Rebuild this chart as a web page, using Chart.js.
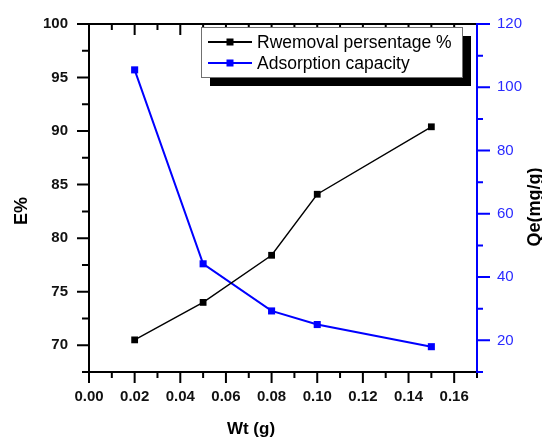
<!DOCTYPE html>
<html>
<head>
<meta charset="utf-8">
<script src="https://cdn.jsdelivr.net/npm/chart.js@4.4.1/dist/chart.umd.min.js"></script>
<style>
  html, body { margin: 0; padding: 0; background: #fff; }
  #wrap { width: 542px; height: 439px; }
</style>
</head>
<body>
<div id="wrap"><canvas id="myChart" width="542" height="439"></canvas></div>
<script>
// values
const weights = [0.02, 0.05, 0.08, 0.10, 0.15];
const removalPct = [70.5, 74.0, 78.4, 84.1, 90.4];
const adsorptionCap = [105.5, 44.2, 29.3, 25.0, 18.0];

const seriesNames = ["Rwemoval persentage %", "Adsorption capacity"];
const axisTitles = {x: "Wt (g)", left: "E%", right: "Qe(mg/g)"};

// tick positions
const xTicks = [0, 0.02, 0.04, 0.06, 0.08, 0.10, 0.12, 0.14, 0.16];
const xMinor = [0.01, 0.03, 0.05, 0.07, 0.09, 0.11, 0.13, 0.15, 0.17];
const leftTicks = [70, 75, 80, 85, 90, 95, 100];
const leftMinor = [67.5, 72.5, 77.5, 82.5, 87.5, 92.5, 97.5];
const rightTicks = [20, 40, 60, 80, 100, 120];
const rightMinor = [10, 30, 50, 70, 90, 110];

const BLUE = "#0000ff";

// frame, ticks, titles and the shadowed legend box
const frameAndLegend = {
    id: "frameAndLegend",
    afterDraw(chart) {
        const ctx = chart.ctx;
        const a = chart.chartArea;
        const sx = chart.scales.x, sl = chart.scales.y, sr = chart.scales.y2;
        ctx.save();
        ctx.lineCap = "butt";

        // black part of the frame
        ctx.strokeStyle = "#000";
        ctx.lineWidth = 2;
        ctx.beginPath();
        ctx.moveTo(a.left, a.bottom); ctx.lineTo(a.right, a.bottom);
        ctx.moveTo(a.left, a.top); ctx.lineTo(a.right, a.top);
        ctx.moveTo(a.left, a.top - 1); ctx.lineTo(a.left, a.bottom + 1);
        // left ticks (outward)
        leftTicks.forEach(v => { const y = sl.getPixelForValue(v); ctx.moveTo(a.left - 12, y); ctx.lineTo(a.left, y); });
        leftMinor.forEach(v => { const y = sl.getPixelForValue(v); ctx.moveTo(a.left - 7, y); ctx.lineTo(a.left, y); });
        // bottom ticks (outward) and top ticks (inward)
        xTicks.forEach(v => {
            const x = sx.getPixelForValue(v);
            ctx.moveTo(x, a.bottom); ctx.lineTo(x, a.bottom + 11);
            ctx.moveTo(x, a.top); ctx.lineTo(x, a.top + 11);
        });
        xMinor.forEach(v => {
            const x = sx.getPixelForValue(v);
            ctx.moveTo(x, a.bottom); ctx.lineTo(x, a.bottom + 6);
            ctx.moveTo(x, a.top); ctx.lineTo(x, a.top + 6);
        });
        ctx.stroke();

        // blue right axis
        ctx.strokeStyle = BLUE;
        ctx.beginPath();
        ctx.moveTo(a.right, a.top - 1); ctx.lineTo(a.right, a.bottom + 1);
        rightTicks.forEach(v => { const y = sr.getPixelForValue(v); ctx.moveTo(a.right, y); ctx.lineTo(a.right + 13, y); });
        rightMinor.forEach(v => { const y = sr.getPixelForValue(v); ctx.moveTo(a.right, y); ctx.lineTo(a.right + 6, y); });
        ctx.stroke();

        // axis titles
        ctx.fillStyle = "#000";
        ctx.textAlign = "center";
        ctx.textBaseline = "middle";
        ctx.font = "bold 17px Arial, 'Liberation Sans', sans-serif";
        ctx.fillText(axisTitles.x, 251, 429);
        ctx.font = "bold 18px Arial, 'Liberation Sans', sans-serif";
        ctx.save();
        ctx.translate(22, 211); ctx.rotate(-Math.PI / 2);
        ctx.fillText(axisTitles.left, 0, 0);
        ctx.restore();
        ctx.save();
        ctx.translate(535, 207); ctx.rotate(-Math.PI / 2);
        ctx.fillText(axisTitles.right, 0, 0);
        ctx.restore();

        // legend with drop shadow
        const lx = 201, ly = 27, lw = 261, lh = 50;
        ctx.fillStyle = "#000";
        ctx.fillRect(lx + 9, ly + 9, lw, lh);
        ctx.fillStyle = "#fff";
        ctx.fillRect(lx, ly, lw, lh);
        ctx.strokeStyle = "#707070";
        ctx.lineWidth = 1;
        ctx.strokeRect(lx + 0.5, ly + 0.5, lw, lh);
        ctx.font = "17.5px Arial, 'Liberation Sans', sans-serif";
        ctx.textAlign = "left";
        chart.data.datasets.forEach((ds, i) => {
            const y = 42 + i * 21;
            ctx.strokeStyle = ds.borderColor;
            ctx.lineWidth = 2;
            ctx.beginPath(); ctx.moveTo(208, y); ctx.lineTo(252, y); ctx.stroke();
            ctx.fillStyle = ds.borderColor;
            ctx.fillRect(226.5, y - 3.5, 7, 7);
            ctx.fillStyle = "#000";
            ctx.fillText(ds.label, 257, y + 1);
        });
        ctx.restore();
    }
};

// keep the plot box fixed: no extra room for half labels
const fixVertical = w => s => { s.width = w; s.paddingTop = 0; s.paddingBottom = 0; };

const ctx = document.getElementById("myChart").getContext("2d");
new Chart(ctx, {
    type: "line",
    data: {
        datasets: [
            {
                label: seriesNames[0],
                data: weights.map((w, i) => ({x: w, y: removalPct[i]})),
                yAxisID: "y",
                borderColor: "#000",
                backgroundColor: "#000",
                borderWidth: 1.4,
                pointStyle: "rect",
                pointRadius: 4.8,
                pointBorderWidth: 0,
                tension: 0
            },
            {
                label: seriesNames[1],
                data: weights.map((w, i) => ({x: w, y: adsorptionCap[i]})),
                yAxisID: "y2",
                borderColor: BLUE,
                backgroundColor: BLUE,
                borderWidth: 2,
                pointStyle: "rect",
                pointRadius: 5,
                pointBorderWidth: 0,
                tension: 0
            }
        ]
    },
    options: {
        responsive: false,
        animation: false,
        devicePixelRatio: 1,
        layout: {padding: {top: 24, left: 0, right: 0, bottom: 0}},
        plugins: {legend: {display: false}, tooltip: {enabled: false}},
        scales: {
            x: {
                type: "linear",
                min: 0,
                max: 0.17,
                afterBuildTicks: s => { s.ticks = xTicks.map(v => ({value: v})); },
                afterFit: s => { s.height = 67; s.paddingLeft = 0; s.paddingRight = 0; },
                grid: {display: false, drawTicks: false},
                border: {display: false},
                ticks: {
                    autoSkip: false,
                    maxRotation: 0,
                    padding: 16,
                    color: "#111",
                    font: {family: "Arial, 'Liberation Sans', sans-serif", size: 15, weight: "bold"},
                    callback: v => v.toFixed(2)
                }
            },
            y: {
                position: "left",
                min: 67.5,
                max: 100,
                afterBuildTicks: s => { s.ticks = leftTicks.map(v => ({value: v})); },
                afterFit: fixVertical(89),
                grid: {display: false, drawTicks: false},
                border: {display: false},
                ticks: {
                    autoSkip: false,
                    padding: 21,
                    color: "#111",
                    font: {family: "Arial, 'Liberation Sans', sans-serif", size: 15, weight: "bold"}
                }
            },
            y2: {
                position: "right",
                min: 10,
                max: 120,
                afterBuildTicks: s => { s.ticks = rightTicks.map(v => ({value: v})); },
                afterFit: fixVertical(65),
                grid: {display: false, drawTicks: false},
                border: {display: false},
                ticks: {
                    autoSkip: false,
                    padding: 20,
                    color: "#2a2aff",
                    font: {family: "Arial, 'Liberation Sans', sans-serif", size: 15}
                }
            }
        }
    },
    plugins: [frameAndLegend]
});
</script>
</body>
</html>
